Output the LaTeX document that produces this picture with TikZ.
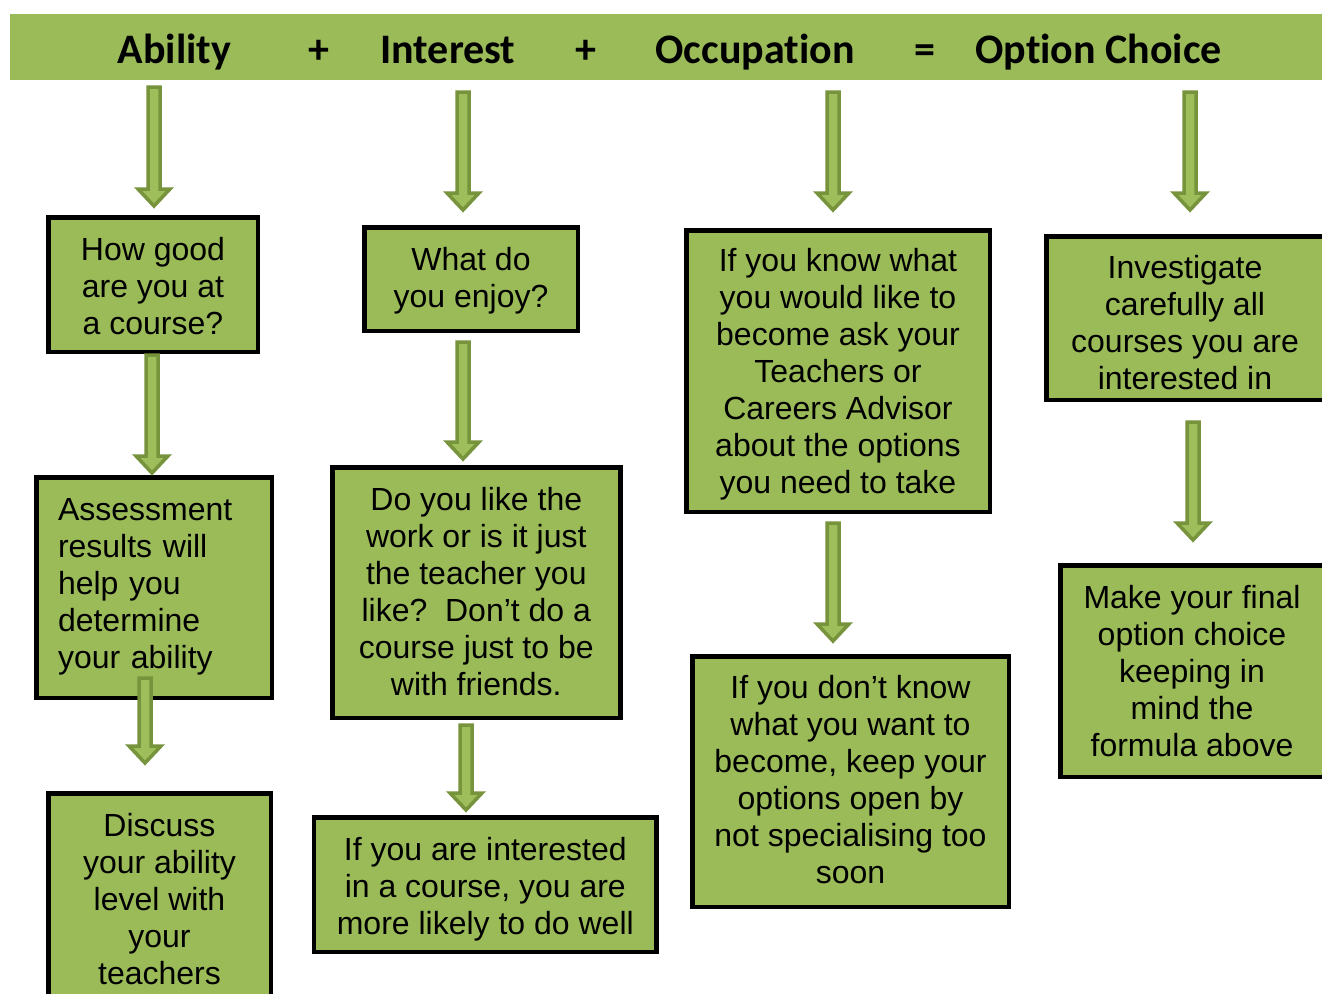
\documentclass[tikz,border=0pt]{standalone}
\usepackage{fontspec}
\setmainfont{Liberation Sans}
\newfontfamily\hdrfont{Carlito}[Ligatures=NoCommon]
\usetikzlibrary{calc}
\definecolor{boxgreen}{HTML}{9BBB59}
\definecolor{arrowdark}{HTML}{77933C}
\definecolor{arrowlight}{HTML}{9DBE5B}
\tikzset{
  box/.style={draw=black, line width=4.5pt, fill=boxgreen, inner sep=0pt},
  txt/.style={inner sep=0pt, align=center, font=\fontsize{32}{37}\selectfont},
  hdr/.style={font=\hdrfont\bfseries\fontsize{42}{50}\selectfont, anchor=base, inner sep=0pt},
  blockarrow/.style={draw=arrowdark, fill=arrowlight, line width=3.5pt, line join=miter}
}
\newcommand{\barrow}[2]{%
  \path[blockarrow] let \p1=(#1), \p2=(#2) in
    (\x1-6,\y1) -- (\x1+6,\y1) -- (\x1+6,\y2+20) -- (\x1+16,\y2+20) -- (\x1,\y2+3)
    -- (\x1-16,\y2+20) -- (\x1-6,\y2+20) -- cycle;}
\begin{document}
\begin{tikzpicture}[x=1pt,y=-1pt]
\useasboundingbox (0,0) rectangle (1322,993);
\fill[white] (0,0) rectangle (1322,993);
% header bar
\node[fill=boxgreen, inner sep=0pt, minimum width=1316pt, minimum height=66pt, anchor=north west] (bar) at (10,14) {};
\node[hdr] (hability) at (174.5,63) {Ability};
\node[hdr] (hplus1) at (319,63) {+};
\node[hdr] (hinterest) at (448,63) {Interest};
\node[hdr] (hplus2) at (586,63) {+};
\node[hdr] (hocc) at (755,63) {Occupation};
\node[hdr] (heq) at (925,63) {=};
\node[hdr] (hopt) at (1098.5,63) {Option Choice};
% boxes
\node[box, minimum width=209.5pt, minimum height=134.5pt] (A1) at (153,284.5) {};
\node[txt] (A1t) at ([yshift=-2pt]A1.center) {How good\\are you at\\a course?};
\node[box, minimum width=235.5pt, minimum height=220.5pt] (A2) at (154,587.5) {};
\node[txt, align=left, text width=192pt] (A2t) at ([yshift=1pt]A2.center) {Assessment\\results will\\help you\\determine\\your ability};
\node[box, minimum width=222.5pt, minimum height=211.5pt] (A3) at (159.5,899) {};
\node[txt] (A3t) at (A3.center) {Discuss\\your ability\\level with\\your\\teachers};
\node[box, minimum width=213.5pt, minimum height=103.5pt] (B1) at (471,279) {};
\node[txt] (B1t) at ([yshift=-2pt]B1.center) {What do\\you enjoy?};
\node[box, minimum width=288pt, minimum height=250.5pt] (B2) at (476.3,592.5) {};
\node[txt] (B2t) at ([yshift=1pt]B2.center) {Do you like the\\work or is it just\\the teacher you\\like?~~Don’t do a\\course just to be\\with friends.};
\node[box, minimum width=342.5pt, minimum height=134.5pt] (B3) at (485.3,884.5) {};
\node[txt] (B3t) at ([yshift=-5pt]B3.center) {If you are interested\\in a course, you are\\more likely to do well};
\node[box, minimum width=303.5pt, minimum height=281.5pt] (C1) at (838,371) {};
\node[txt] (C1t) at ([yshift=-3.5pt]C1.center) {If you know what\\you would like to\\become ask your\\Teachers or\\Careers Advisor\\about the options\\you need to take};
\node[box, minimum width=316.5pt, minimum height=250.5pt] (C2) at (850.5,781.5) {};
\node[txt] (C2t) at ([yshift=2pt]C2.center) {If you don’t know\\what you want to\\become, keep your\\options open by\\not specialising too\\soon};
\node[box, minimum width=277.5pt, minimum height=163.5pt] (D1) at (1185,318) {};
\node[txt] (D1t) at ([yshift=-5pt]D1.center) {Investigate\\carefully all\\courses you are\\interested in};
\node[box, minimum width=263.5pt, minimum height=211.5pt] (D2) at (1192,671) {};
\node[txt] (D2t) at (D2.center) {Make your final\\option choice\\keeping in\\mind the\\formula above};
% arrow end points
\coordinate (a1s) at (154,87);  \coordinate (a1e) at (154,209);
\coordinate (a2s) at (152,355); \coordinate (a2e) at (152,476);
\coordinate (a3s) at (145,678); \coordinate (a3e) at (145,766);
\coordinate (b1s) at (463,92);  \coordinate (b1e) at (463,213);
\coordinate (b2s) at (463,342); \coordinate (b2e) at (463,462);
\coordinate (b3s) at (466,725); \coordinate (b3e) at (466,813);
\coordinate (c1s) at (833,92);  \coordinate (c1e) at (833,213);
\coordinate (c2s) at (833,523); \coordinate (c2e) at (833,644);
\coordinate (d1s) at (1190,92); \coordinate (d1e) at (1190,213);
\coordinate (d2s) at (1193,422);\coordinate (d2e) at (1193,543);
\barrow{a1s}{a1e}
\barrow{a2s}{a2e}
\barrow{a3s}{a3e}
\barrow{b1s}{b1e}
\barrow{b2s}{b2e}
\barrow{b3s}{b3e}
\barrow{c1s}{c1e}
\barrow{c2s}{c2e}
\barrow{d1s}{d1e}
\barrow{d2s}{d2e}
\end{tikzpicture}
\end{document}
